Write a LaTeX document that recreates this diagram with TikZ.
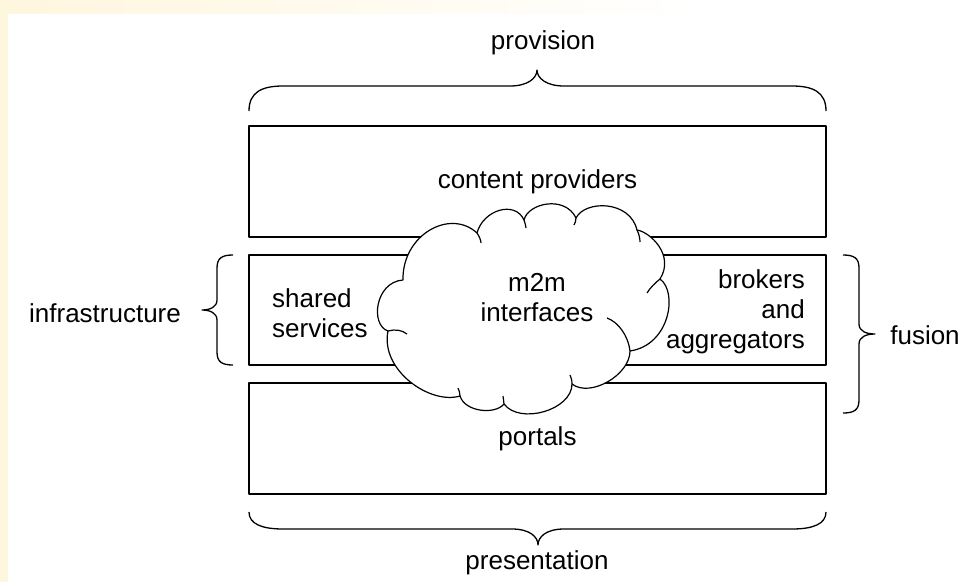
\documentclass[tikz,border=0pt]{standalone}
\usepackage{fontspec}
\setmainfont{Liberation Sans}
\definecolor{cream}{HTML}{FFF6DE}
\begin{document}
\begin{tikzpicture}[x=1pt,y=-1pt,line join=round,
  box/.style={draw,line width=1.8pt,inner sep=0pt},
  brace/.style={draw,line width=1.3pt},
  cloudline/.style={line width=1.2pt},
  lbl/.style={font=\fontsize{26}{30}\selectfont,inner sep=0pt}]
\useasboundingbox (0,0) rectangle (967,582);
\fill[white] (0,0) rectangle (967,582);
\fill[cream] (0,0) rectangle (8,582);
\shade[left color=cream,right color=white] (8,0) rectangle (700,13);
% boxes
\node[box,lbl,minimum width=577pt,minimum height=111pt] (content) at (537.5,181.5) {content providers};
\node[box,minimum width=271pt,minimum height=110pt] (shared) at (384.5,310) {};
\node[box,minimum width=266pt,minimum height=110pt] (brokers) at (693,310) {};
\node[box,lbl,minimum width=577pt,minimum height=111pt] (portals) at (537.5,438.5) {portals};
\node[lbl,align=left,anchor=west] (sharedT) at (272,313) {shared\\services};
\node[lbl,align=right,anchor=east] (brokersT) at (805,312) {brokers\\and\\aggregators};
% cloud
\filldraw[cloudline,fill=white] (403,280) .. controls (402,235) and (450,208) .. (477,233)
 .. controls (483,210) and (515,200) .. (524,220)
 .. controls (528,203) and (565,195) .. (576,218)
 .. controls (585,200) and (630,200) .. (637,230)
 .. controls (650,232) and (675,255) .. (660,279)
 .. controls (678,292) and (670,345) .. (630,351)
 .. controls (630,375) and (590,398) .. (572,384)
 .. controls (572,410) and (520,425) .. (504,404)
 .. controls (495,415) and (465,412) .. (460,396)
 .. controls (430,405) and (380,370) .. (388,331)
 .. controls (370,325) and (375,282) .. (403,280) -- cycle;
\draw[cloudline] (477,233) .. controls (479,236) and (481,240) .. (481,243);
\draw[cloudline] (524,220) .. controls (525,223) and (526,226) .. (526,228);
\draw[cloudline] (576,218) .. controls (576,221) and (575,223) .. (574,225);
\draw[cloudline] (637,230) .. controls (639,234) and (640,238) .. (640,242);
\draw[cloudline] (660,279) .. controls (655,283) and (650,288) .. (647,293);
\draw[cloudline] (630,351) .. controls (628,335) and (618,322) .. (607,318);
\draw[cloudline] (572,384) .. controls (572,380) and (571,377) .. (570,375);
\draw[cloudline] (504,404) .. controls (504,401) and (503,398) .. (503,396);
\draw[cloudline] (460,396) .. controls (460,393) and (459,390) .. (458,388);
\draw[cloudline] (388,331) .. controls (395,329) and (402,330) .. (407,334);
\node[lbl,align=center] (m2m) at (537,298) {m2m\\interfaces};
% braces
\draw[brace] (249,111) .. controls (249,92) and (262,86) .. (283,86) -- (510,86)
  .. controls (528,86) and (537,78) .. (537,70) .. controls (537,78) and (546,86) .. (564,86)
  -- (792,86) .. controls (813,86) and (826,92) .. (826,111);
\draw[brace] (249,512) .. controls (249,524) and (262,529) .. (283,529) -- (512,529)
  .. controls (530,529) and (538,537) .. (538,545) .. controls (538,537) and (546,529) .. (564,529)
  -- (792,529) .. controls (813,529) and (826,524) .. (826,512);
\draw[brace] (233,255) .. controls (222,255) and (217,258) .. (217,268) -- (217,300)
  .. controls (217,307) and (210,310) .. (202,310) .. controls (210,310) and (217,313) .. (217,320)
  -- (217,352) .. controls (217,362) and (222,365) .. (233,365);
\draw[brace] (843,255) .. controls (854,255) and (859,258) .. (859,268) -- (859,324)
  .. controls (859,331) and (866,334) .. (875,334) .. controls (866,334) and (859,337) .. (859,344)
  -- (859,400) .. controls (859,410) and (854,413) .. (843,413);
% brace labels
\node[lbl] (provision) at (543,43) {provision};
\node[lbl] (presentation) at (537,563) {presentation};
\node[lbl] (infra) at (105,313) {infrastructure};
\node[lbl] (fusion) at (925,335) {fusion};
\end{tikzpicture}
\end{document}
